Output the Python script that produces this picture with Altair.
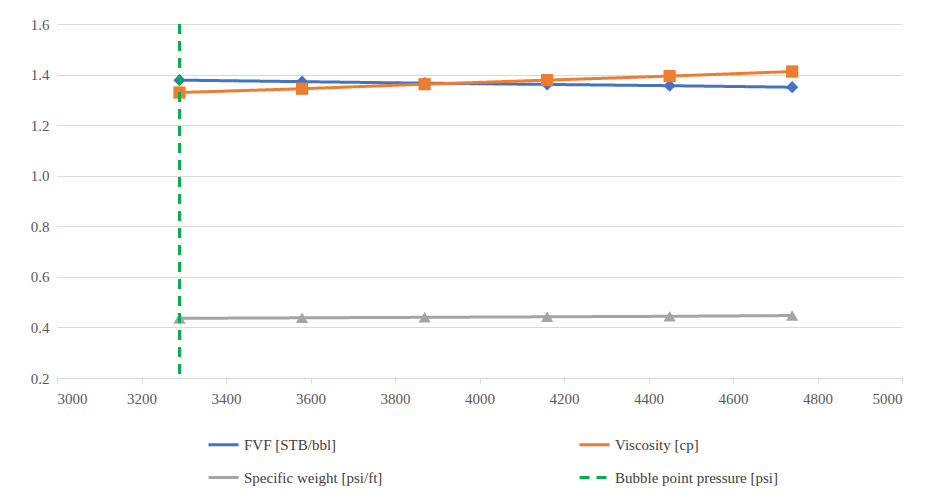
import altair as alt
import pandas as pd

pressure = [3290, 3580, 3870, 4160, 4450, 4740]
fvf = [1.378, 1.372, 1.366, 1.361, 1.356, 1.350]
viscosity = [1.329, 1.344, 1.362, 1.378, 1.394, 1.412]
spec_weight = [0.436, 0.438, 0.440, 0.442, 0.444, 0.447]
bubble_point = 3290

names = ["FVF [STB/bbl]", "Specific weight [psi/ft]", "Viscosity [cp]", "Bubble point pressure [psi]"]
colors = ["#4472C4", "#A5A5A5", "#ED7D31", "#00B050"]
shapes = ["diamond", "triangle-up", "square"]
serif = "Times New Roman, Liberation Serif"

rows = []
for name, vals in zip(names[:3], [fvf, spec_weight, viscosity]):
    for p, v in zip(pressure, vals):
        rows.append({"p": p, "v": v, "s": name})
df = pd.DataFrame(rows)
rule_df = pd.DataFrame({"p": [bubble_point], "s": [names[3]]})

color = alt.Color("s:N", scale=alt.Scale(domain=names, range=colors),
                  legend=alt.Legend(title=None, orient="none", legendX=150, legendY=404,
                                    columns=2, columnPadding=190, rowPadding=8,
                                    symbolType="stroke", symbolSize=900, symbolStrokeWidth=3,
                                    labelFontSize=15, labelFont=serif,
                                    labelColor="#404040", labelLimit=300))
dash = alt.StrokeDash("s:N", scale=alt.Scale(domain=names, range=[[1, 0], [1, 0], [1, 0], [10, 7]]),
                      legend=None)

x = alt.X("p:Q", scale=alt.Scale(domain=[3000, 5000], nice=False),
          axis=alt.Axis(values=list(range(3000, 5001, 200)), format="d", grid=False, title=None,
                        tickColor="#d9d9d9", domainColor="#d9d9d9"))
y = alt.Y("v:Q", scale=alt.Scale(domain=[0.2, 1.6], nice=False),
          axis=alt.Axis(values=[0.2, 0.4, 0.6, 0.8, 1.0, 1.2, 1.4, 1.6], format=".1f",
                        title=None, ticks=False, domain=False, gridColor="#d9d9d9"))

lines = alt.Chart(df).mark_line(strokeWidth=3).encode(x=x, y=y, color=color, strokeDash=dash)
points = alt.Chart(df).mark_point(filled=True, opacity=1, size=150).encode(
    x=x, y=y,
    color=alt.Color("s:N", scale=alt.Scale(domain=names, range=colors), legend=None),
    shape=alt.Shape("s:N", scale=alt.Scale(domain=names[:3], range=shapes), legend=None))
rule = alt.Chart(rule_df).mark_rule(strokeWidth=3).encode(x="p:Q", color=color, strokeDash=dash)

chart = alt.layer(lines, points, rule).properties(
    width=845, height=354,
    autosize=alt.AutoSizeParams(type="none"),
    padding={"left": 49, "top": 16, "right": 34, "bottom": 114},
).configure_axis(
    labelFont=serif, labelFontSize=15, labelColor="#595959", labelPadding=8
).configure_view(stroke=None)

chart.save("out.html", embed_options={"renderer": "svg", "actions": False})
